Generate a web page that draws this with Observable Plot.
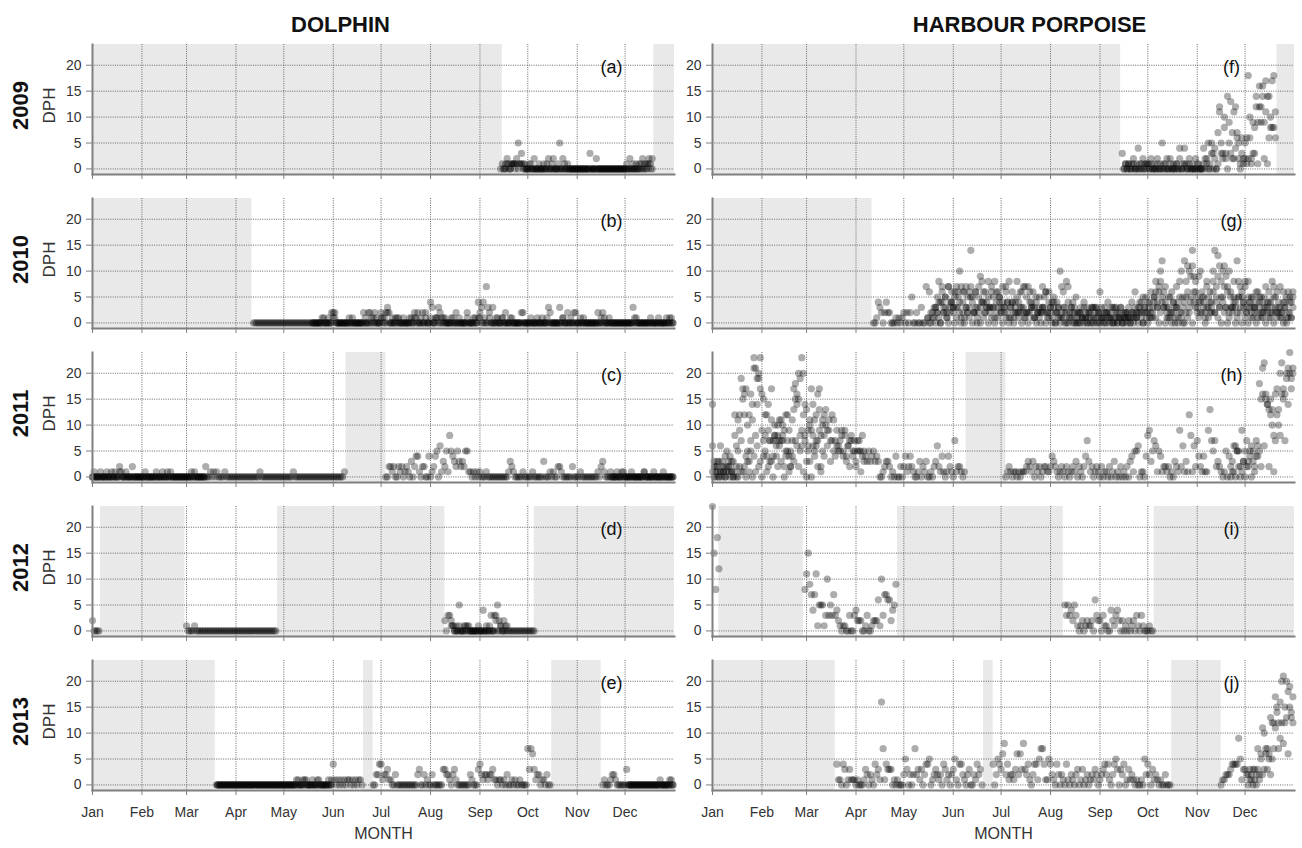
<!DOCTYPE html>
<html>
<head>
<meta charset="utf-8">
<script src="https://cdn.jsdelivr.net/npm/d3@7"></script>
<script src="https://cdn.jsdelivr.net/npm/@observablehq/plot@0.6"></script>
<style>
  html, body { margin: 0; padding: 0; background: #fff; }
  #chart { width: 1302px; height: 848px; }
</style>
</head>
<body>
<div id="chart"></div>
<script>
// ---------------- DATA ----------------
const species = ["DOLPHIN", "HARBOUR PORPOISE"];
const years = [2009, 2010, 2011, 2012, 2013];
const monthLabels = ["Jan", "Feb", "Mar", "Apr", "May", "Jun", "Jul", "Aug", "Sep", "Oct", "Nov", "Dec"];
const yTicks = [0, 5, 10, 15, 20];
const yDomain = [-1.07, 24];
const dolphinLetters = ["(a)", "(b)", "(c)", "(d)", "(e)"];
const porpoiseLetters = ["(f)", "(g)", "(h)", "(i)", "(j)"];
const yLabel = "DPH";
const xLabel = "MONTH";

// Periods without recordings (grey shading): [year, from "MM-DD", to "MM-DD"]
const dolphinGaps = [
  [2009, "01-01", "09-15"], [2009, "12-19", "end"],
  [2010, "01-01", "04-11"],
  [2011, "06-09", "07-04"],
  [2012, "01-06", "02-28"], [2012, "04-27", "08-10"], [2012, "10-05", "end"],
  [2013, "01-01", "03-19"], [2013, "06-20", "06-26"], [2013, "10-16", "11-16"]
];
const porpoiseGaps = [
  [2009, "01-01", "09-14"], [2009, "12-21", "end"],
  [2010, "01-01", "04-11"],
  [2011, "06-09", "07-04"],
  [2012, "01-05", "02-27"], [2012, "04-27", "08-09"], [2012, "10-05", "end"],
  [2013, "01-01", "03-19"], [2013, "06-20", "06-26"], [2013, "10-16", "11-16"]
];

// Daily DPH per logger: [year, first day "MM-DD", daily values as base-36 digits (0-9, a=10 ... o=24)]
const dolphinDaily = [
  [2009, "09-14", ["0101210111","2513110010","0200100100","2012001502","1010000000","0000003000","2000000000","0000000001","0201010102","101212"]],
  [2009, "09-16", ["0010011010","1100000100","0000000100","0000000000","0000000000","0000000000","0000000000","0000000000","0000001001","0100"]],
  [2010, "04-12", ["0000000000","0000000000","0000000000","0000000","0000001000002","2100000000","1000000002","0002002000","2102320100","0100000001","0202012010","0430013210","0000010201","0000200010","0423417320","3010001020","0010000002","0000100010","0000130000","0030100201","0200010000","0000002010","1000000000","0000000030","1000000000","0000000001","0010"]],
  [2010, "05-19", ["0000000100","1001200000","0000010000","0001020110","1001010200","0011000100","0100110000","0200100110","0011000100","0000000100","0010110000","0100001001","0000100000","0200000000","0000100002","0000000100","0000020000","1000000000","0020001000","0000000000","0010000000","0010000100","0000100"]],
  [2011, "01-01", ["0100000001","0000100210","0000020000","0000000000","1000100001","0000000000","0010100000","0200101010","0001000000","0000000000","0000010000","0000000000","0000001000","0000000000","0000000000","000000001"]],
  [2011, "01-01", ["0000010000","0010000100","0100000000","0001000000","0000000100","0000000000","0000000000","00"]],
  [2011, "07-04", ["0022120021","2012103024","4102200401","2450613251","8543253232","5511010101","0001000000","0000000132","1000001000","0010000003","0001010022","1000000200","0010000000","0001023100","0100010001","0000100000","0010000010","00001000000"]],
  [2011, "11-22", ["0000000100","0000000000","0100000000","0000000000"]],
  [2012, "01-01", ["20000"]],
  [2012, "03-01", ["1000010000","0000000000","0000000000","0000000000","0000000000","0000000"]],
  [2012, "08-10", ["2033210105","0011100000","0000401003","0335210211","0000000000","0000000"]],
  [2012, "08-14", ["1100010000","0100000100","0000100020","010000"]],
  [2013, "03-20", ["0000000000","0000000000","0000000000","0000000000","0000000000","1000101000","0001000000","0014101010","101101010110"]],
  [2013, "06-26", ["0022441223","1100200000","0000000023","0020100200","0000332210","2310000000","0210003421","2212231101","1010200101","0010000737","6312201102","00"]],
  [2013, "11-17", ["0100012210","0000030000","0000000000","0000001000","00010"]],
  [2013, "03-20", ["0000000000","0000000000","0000000000","0000000000","0000000000","0100010000","1000100000","100"]],
  [2013, "12-03", ["0000000000","0000000000","000000100"]]
];

const porpoiseDaily = [
  [2009, "09-15", ["3010101201","4012101010","1020150120","2010104004","1020102010","0421515340","7c53a3e5d2","b47516251i","a138c9gce9","b1e8hib"]],
  [2009, "09-16", ["0101001000","1000110200","0100010001","0001020110","0100001000","1020030201","b328209372","c620312626","293e1c9g2he6a886"]],
  [2010, "04-12", ["0014320242","2000101012","0202500200","3007160213","2847352746","3576a72632","6e52637946","2483658635","3427483412","8436272763","3152323562","6345243a76","3872343522","3142321302","3261032213","0312131021","3142613240","3524125637","8c64315240","3152048ba9","e965425318","5238e7db5a","b97a6353c8","7548354253","4635253412","8752432631","6543"]],
  [2010, "05-16", ["1021302104","2310243013","2140321502","3120412303","1302142031","2014032120","3120241302","1032014203","0210130201","1020102101","0120310201","1021020130","2101201021","1203102103","2141302530","1320413021","3051240632","1425031426","2413052301","3240152031","2041320142","1302413021","3120401215"]],
  [2010, "05-21", ["3540625173","4263540617","5374260538","4635273146","5273641362","4526371524","3614252736","2131402312","1204132010","2013102031","3102312041","1302013021","2102031242","5324163584","6a43725162","3748a5c263","5b4839a642","7364a25938","4736253842","5364728351","3625142736","4253627143","52416"]],
  [2011, "01-01", ["e312063102","143086bcjh","gh5c7enljk","n9f8ce7h4a","78b7a95c42","bhiefjnk8d","9ah6b7gd8b","ca9b7c5796","7958467857","3575854353","4534300123","3201040020","2412421001","3021300102","3621410142","107122101"]],
  [2011, "01-01", ["6021310245","3210c2597f","c4a3gbl8ej","hg7c493b78","4a6b72c795","7dfgk89ce3","6b9e5c7h2a","8d6937b465","5849362745","275143"]],
  [2011, "01-01", ["1203012101","2013100211","2031504162","3045127308","6273804512","4376256170","5308462915","4"]],
  [2011, "07-04", ["0121011010","1112321302","1201221124","3210121021","0121302102","4731201210","2011020130","1020102034","1556011048","9357615412","2120103219","26131c8162","74214119d7","5723210150","4016655293","572465274i","flmgedfa8g","hdkmfgklohk"]],
  [2011, "11-22", ["2310520130","2350314652","g6fe2cd17c","a8gh7jekjl"]],
  [2012, "01-01", ["of8ic"]],
  [2012, "02-28", ["8bf9747b15","5513a35373","4210110030","0342220013","00122261a3","77662459"]],
  [2012, "08-10", ["5353425310","1201211206","3220311004","2134202010","2012031031","000100"]],
  [2013, "03-20", ["4110430131","1101000132","02104231g7","1433301010","0025302027","2313024450","1232120431","2023510442","102300214230"]],
  [2013, "06-26", ["4025436824","1221362638","3241024415","7741154210","4202104102","1023013012","0121320123","4241024530","3240131210","1001052420","3121010020","00"]],
  [2013, "11-16", ["0112223444","4951332031","332726ba77","6d5che7gkl","fkijeh"]],
  [2013, "12-03", ["2120103152","36352c7bfc","9c8cd6fdc"]]
];

// ---------------- BUILD TABLES ----------------
const BASE_YEAR = 2015; // common (non-leap) calendar year for the day-of-year axis
function toDate(md) {
  if (md === "end") return new Date(Date.UTC(BASE_YEAR + 1, 0, 1));
  const [m, d] = md.split("-").map(Number);
  return new Date(Date.UTC(BASE_YEAR, m - 1, d));
}
const points = [];
function addDaily(sp, table) {
  for (const [year, start, chunks] of table) {
    const s = toDate(start);
    const str = chunks.join("");
    for (let i = 0; i < str.length; i++) {
      const c = str[i];
      if (c === ".") continue;
      points.push({species: sp, year, date: d3.utcDay.offset(s, i), dph: parseInt(c, 36)});
    }
  }
}
addDaily(species[0], dolphinDaily);
addDaily(species[1], porpoiseDaily);

const gaps = [
  ...dolphinGaps.map(([year, a, b]) => ({species: species[0], year, start: toDate(a), end: toDate(b)})),
  ...porpoiseGaps.map(([year, a, b]) => ({species: species[1], year, start: toDate(a), end: toDate(b)}))
];

const xDomain = [toDate("01-01"), toDate("end")];
const monthTicks = monthLabels.map((_, i) => new Date(Date.UTC(BASE_YEAR, i, 1)));

const rowLabels = years.map(y => ({species: species[0], year: y, text: String(y)}));
const panelLabels = [
  ...years.map((y, i) => ({species: species[0], year: y, text: dolphinLetters[i]})),
  ...years.map((y, i) => ({species: species[1], year: y, text: porpoiseLetters[i]}))
];

const axisColor = "#7f7f7f";
const gridColor = "#666";
const textColor = "#333";

const chart = Plot.plot({
  width: 1302,
  height: 848,
  marginLeft: 92,
  marginRight: 8,
  marginTop: 42,
  marginBottom: 55,
  style: {fontFamily: "'Liberation Sans', Arial, Helvetica, sans-serif", fontSize: "14px", background: "#fff", color: "#222"},
  x: {type: "utc", domain: xDomain, axis: null},
  y: {domain: yDomain, axis: null},
  fx: {domain: species, paddingInner: 0.0613, paddingOuter: 0, axis: null, label: null},
  fy: {domain: years, paddingInner: 0.153, paddingOuter: 0, axis: null, label: null},
  marks: [
    Plot.rect(gaps, {x1: "start", x2: "end", fx: "species", fy: "year", fill: "#e9e9e9"}),
    Plot.ruleX(monthTicks, {stroke: gridColor, strokeWidth: 1, strokeDasharray: "1,1.3"}),
    Plot.ruleY(yTicks, {stroke: gridColor, strokeWidth: 1, strokeDasharray: "1,1.3"}),
    Plot.dot(points, {x: "date", y: "dph", fx: "species", fy: "year", r: 3.6, fill: "#000", fillOpacity: 0.32, stroke: "none"}),
    Plot.frame({anchor: "left", stroke: axisColor, strokeWidth: 2}),
    Plot.frame({anchor: "bottom", stroke: axisColor, strokeWidth: 2}),
    Plot.axisY(yTicks, {facetAnchor: null, tickSize: 6, tickPadding: 5, stroke: axisColor, fill: textColor, fontSize: 14, label: null}),
    Plot.axisX(monthTicks, {facetAnchor: null, tickSize: 5, stroke: axisColor, fill: "none", label: null}),
    Plot.axisX(monthTicks, {tickSize: 0, tickPadding: 17, tickFormat: d => monthLabels[d.getUTCMonth()], fill: textColor, fontSize: 14, label: null}),
    Plot.text(panelLabels, {fx: "species", fy: "year", text: "text", frameAnchor: "top-right", textAnchor: "middle", lineAnchor: "middle", dx: -63, dy: 23, fontSize: 18, fill: "#111"}),
    Plot.text(rowLabels, {fx: "species", fy: "year", text: "text", frameAnchor: "left", textAnchor: "middle", lineAnchor: "middle", dx: -72, dy: -4, rotate: -90, fontSize: 22, fontWeight: "bold", fill: "#111"}),
    Plot.text(rowLabels, {fx: "species", fy: "year", text: () => yLabel, frameAnchor: "left", textAnchor: "middle", lineAnchor: "middle", dx: -43, dy: -4, rotate: -90, fontSize: 17, fill: textColor}),
    Plot.text([{species: species[0], year: years[0]}], {fx: "species", fy: "year", text: "species", frameAnchor: "top", textAnchor: "middle", lineAnchor: "middle", dx: -43, dy: -19.5, fontSize: 22, fontWeight: "bold", fill: "#111"}),
    Plot.text([{species: species[1], year: years[0]}], {fx: "species", fy: "year", text: "species", frameAnchor: "top", textAnchor: "middle", lineAnchor: "middle", dx: 26, dy: -19.5, fontSize: 22, fontWeight: "bold", fill: "#111"}),
    Plot.text(species.map(s => ({species: s, year: years[years.length - 1]})), {fx: "species", fy: "year", text: () => xLabel, frameAnchor: "bottom", textAnchor: "middle", lineAnchor: "middle", dy: 43.5, fontSize: 16, fill: textColor})
  ]
});
document.getElementById("chart").appendChild(chart);
</script>
</body>
</html>
